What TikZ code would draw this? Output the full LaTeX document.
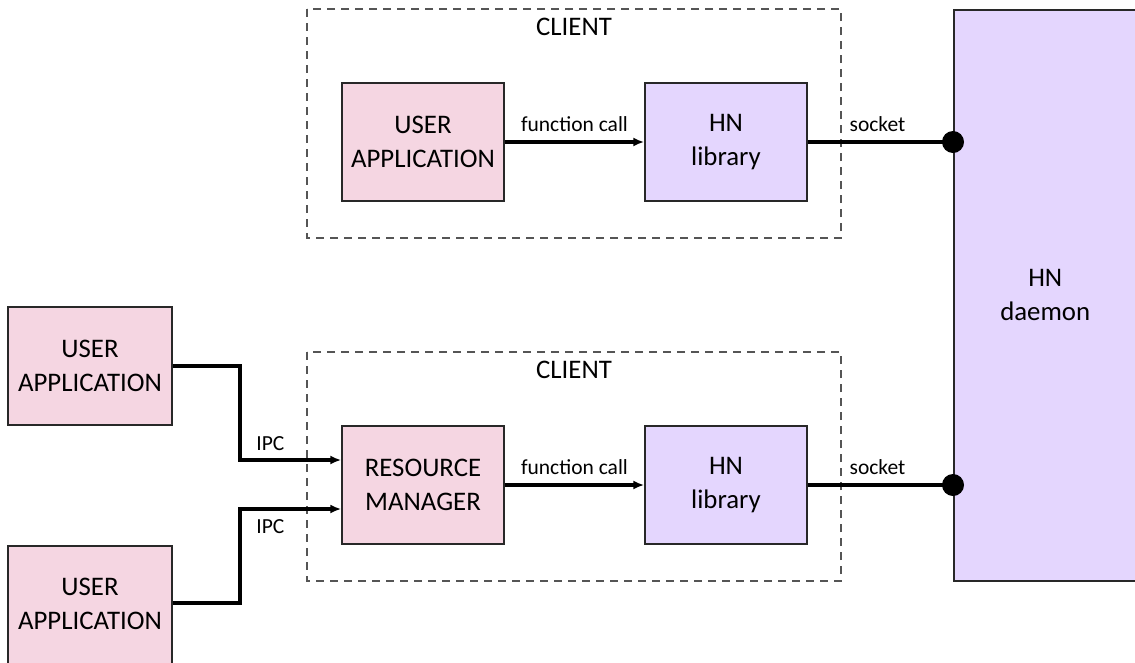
\documentclass[tikz,border=0pt]{standalone}
\usepackage{fontspec}
\setmainfont{Carlito}
\usetikzlibrary{arrows.meta,positioning,calc}

\definecolor{apppink}{RGB}{245,214,226}
\definecolor{hnlilac}{RGB}{228,214,254}
\definecolor{boxline}{RGB}{40,40,40}
\definecolor{dashgray}{RGB}{85,85,85}

\tikzset{
  bigtext/.style={font=\fontsize{26.8}{34}\selectfont, align=center},
  smalltext/.style={font=\fontsize{21.5}{25}\selectfont, inner sep=0pt},
  appbox/.style={draw=boxline, line width=1.5pt, fill=apppink, bigtext,
    minimum width=162pt, minimum height=118pt, inner sep=0pt},
  libbox/.style={draw=boxline, line width=1.5pt, fill=hnlilac, bigtext,
    minimum width=162pt, minimum height=118pt, inner sep=0pt},
  clientbox/.style={draw=dashgray, line width=1.1pt, dash pattern=on 8pt off 6pt},
  link/.style={line width=3.4pt, black},
  callarrow/.style={link, -{Latex[length=11pt,width=9pt]}},
  plug/.style={circle, fill=black, minimum size=22pt, inner sep=0pt}
}

\begin{document}
\begin{tikzpicture}[x=1pt, y=-1pt]
  \useasboundingbox (0,0) rectangle (1135,662);

  % client frames
  \draw[clientbox] (307,9) rectangle (841,238);
  \draw[clientbox] (307,352) rectangle (841,581);
  \node[bigtext] (clientA) at (574,27) {CLIENT};
  \node[bigtext] (clientB) at (574,370) {CLIENT};

  % daemon
  \node[libbox, minimum width=183pt, minimum height=571pt, anchor=north west]
    (daemon) at (953,9) {HN\\daemon};

  % upper client
  \node[appbox] (userA) at (423,142) {USER\\APPLICATION};
  \node[libbox] (libA) at (726,142) {HN\\library};

  % lower client
  \node[appbox] (resmgr) at (423,485) {RESOURCE\\MANAGER};
  \node[libbox] (libB) at (726,485) {HN\\library};

  % external applications
  \node[appbox, minimum width=164pt] (userB) at (90,366) {USER\\APPLICATION};
  \node[appbox, minimum width=164pt, minimum height=120pt, anchor=north] (userC) at (90,545) {};
  \node[bigtext] (userCtext) at (90,604) {USER\\APPLICATION};

  % connectors
  \draw[callarrow] (userA) -- node[smalltext, above=9pt] {function call} (libA);
  \draw[callarrow] (resmgr) -- node[smalltext, above=9pt] {function call} (libB);

  \coordinate (sockA) at (daemon.west |- libA);
  \coordinate (sockB) at (daemon.west |- libB);
  \draw[link] (libA) -- node[smalltext, pos=0.48, above=9pt] {socket} (sockA);
  \draw[link] (libB) -- node[smalltext, pos=0.48, above=9pt] {socket} (sockB);
  \node[plug] (plugA) at (sockA) {};
  \node[plug] (plugB) at (sockB) {};

  \coordinate (inA) at ($(resmgr.west)+(0,-25)$);
  \coordinate (inB) at ($(resmgr.west)+(0,24)$);
  \draw[callarrow] (userB.east) -- (240,366) |- node[smalltext, pos=0.65, above=8pt] {IPC} (inA);
  \draw[callarrow] (userC.east |- 0,603) -- (240,603) |- node[smalltext, pos=0.65, below=9pt] {IPC} (inB);
\end{tikzpicture}
\end{document}
